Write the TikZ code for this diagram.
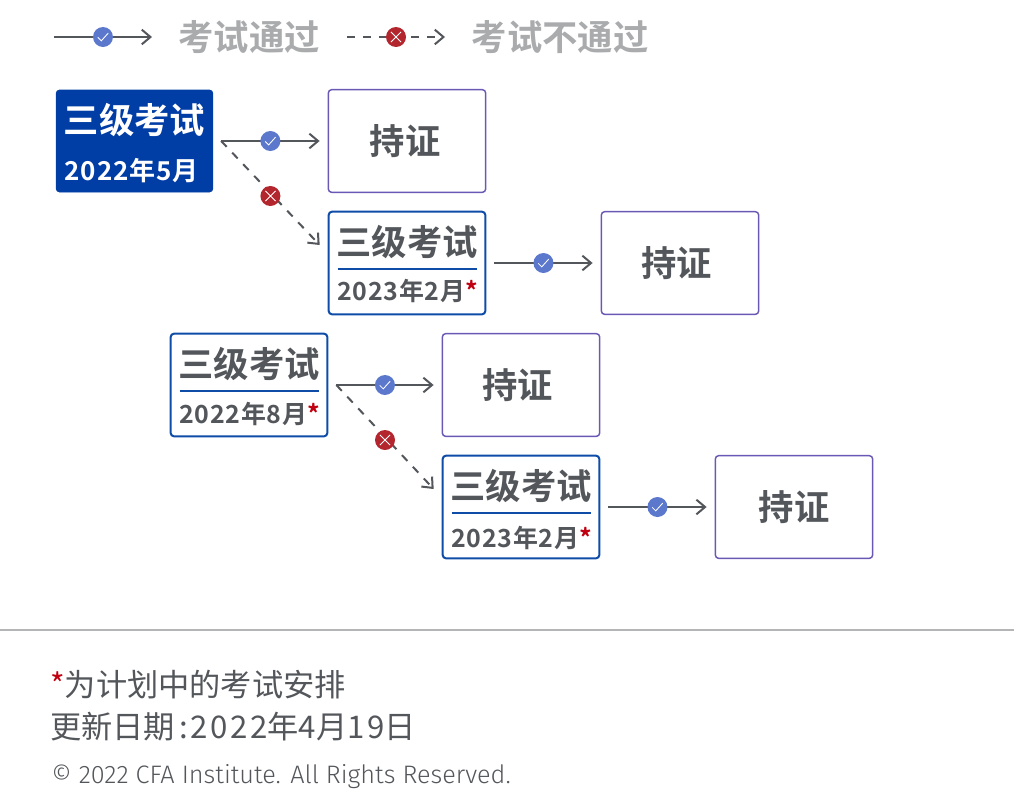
\documentclass[tikz,border=0pt]{standalone}
\usepackage{fontspec}
\usetikzlibrary{arrows.meta,calc}
\setmainfont{Noto Sans CJK SC}[BoldFont={* Bold}]
\newfontfamily\latinfont{Fira Sans}[UprightFont={* Light}]
\newfontfamily\datefont{Noto Sans CJK SC}[LetterSpace=3,BoldFont={* Bold}]
\newfontfamily\footdigits{Noto Sans CJK SC}[LetterSpace=8.5]
\definecolor{examblue}{HTML}{003DA5}
\definecolor{edgeblue}{HTML}{0F4CA8}
\definecolor{certpurple}{HTML}{6B58B4}
\definecolor{okblue}{HTML}{5B78CC}
\definecolor{failred}{HTML}{B3262E}
\definecolor{inkgrey}{HTML}{53565A}
\definecolor{legendgrey}{HTML}{A9ABAD}
\definecolor{rulegrey}{HTML}{B4B5B7}
\definecolor{starred}{HTML}{C00010}
\newcommand{\fs}[1]{\fontsize{#1}{#1}\selectfont}
\newcommand{\checkglyph}{\tikz{\draw[white,line width=.65pt,solid,-,shorten <=0pt,shorten >=0pt] (-3.8pt,-.2pt)--(-1.2pt,-2.8pt)--(4pt,3pt);}}
\newcommand{\crossglyph}{\tikz{\draw[white,line width=.65pt,solid,-,shorten <=0pt,shorten >=0pt] (-3.8pt,-3.8pt)--(3.8pt,3.8pt) (-3.8pt,3.8pt)--(3.8pt,-3.8pt);}}
\tikzset{
  x=0.75pt,y=-0.75pt,
  box/.style={rounded corners=2.5pt,minimum width=118pt,inner sep=0pt},
  certbox/.style={box,line width=1.1pt,draw=certpurple,fill=white,minimum height=77pt,font=\fs{26.5}\bfseries,text=inkgrey},
  planbox/.style={box,line width=1.5pt,draw=edgeblue,fill=white,minimum height=77pt,minimum width=117.5pt},
  firstbox/.style={box,line width=.5pt,draw=examblue,fill=examblue,minimum height=76.5pt,minimum width=117.5pt},
  titletext/.style={font=\fs{26.5}\bfseries,inner sep=0pt},
  datetext/.style={font=\datefont\fs{19.5}\bfseries,inner sep=0pt},
  plandate/.style={font=\datefont\fs{18.7}\bfseries,inner sep=0pt},
  passline/.style={draw=inkgrey,line width=1.5pt,-{Straight Barb[length=6.5pt,width=11pt,line width=1.5pt]}},
  failline/.style={passline,dash pattern=on 6pt off 6pt},
  gap/.style={shorten <=6pt,shorten >=6pt},
  okmark/.style={circle,fill=okblue,minimum size=15pt,inner sep=0pt,solid},
  failmark/.style={circle,fill=failred,minimum size=15pt,inner sep=0pt,solid},
  legendtext/.style={font=\fs{26.5}\bfseries,text=legendgrey,inner sep=0pt},
  foot/.style={font=\fs{23.4},text=inkgrey,inner sep=0pt,anchor=west},
  copyr/.style={font=\latinfont\fs{18.95},text=inkgrey,inner sep=0pt,anchor=west}
}
\newcommand{\planexam}[5]{% name, centre x, centre y, date, date offset
  \node[planbox] (#1) at (#2,#3) {};
  \node[titletext,text=inkgrey] (#1t) at (#2,#3-21) {三级考试};
  \coordinate (#1a) at (#2-69.5,#3+6);
  \coordinate (#1b) at (#2+69.5,#3+6);
  \draw[edgeblue,line width=1.5pt] (#1a) -- (#1b);
  \node[plandate,text=inkgrey] (#1d) at (#2+0.5,#3+#5) {#4\textcolor{starred}{*}};
}
\begin{document}
\begin{tikzpicture}
\useasboundingbox (0,0) rectangle (1014,811);
% legend
\coordinate (la) at (54,37); \coordinate (lb) at (152,37);
\coordinate (lc) at (347,37); \coordinate (ld) at (445,37);
\draw[passline] (la) -- node[okmark] (lok) {\checkglyph} (lb);
\node[legendtext] (lt1) at (249,37) {考试通过};
\draw[failline] (lc) -- node[failmark] (lfail) {\crossglyph} (ld);
\node[legendtext] (lt2) at (560,37) {考试不通过};
% first row
\node[firstbox] (e1) at (134.5,141) {};
\node[titletext,text=white] (e1t) at (134.5,120) {三级考试};
\node[datetext,text=white] (e1d) at (131.5,171) {2022年5月};
\node[certbox] (c1) at (407,141) {持证\hspace*{3pt}};
\draw[passline,gap] (e1.east) -- node[okmark] (ok1) {\checkglyph} (c1.west);
\planexam{e2}{407}{263}{2023年2月}{28}
\node[certbox] (c2) at (680,263) {持证\hspace*{5.25pt}};
\draw[passline,gap] (e2.east) -- node[okmark] (ok2) {\checkglyph} (c2.west);
\coordinate (s1) at ($(e1.east)+(8,0)$);
\coordinate (t1) at ($(e2.west)+(-8,-18)$);
\draw[failline] (s1) -- node[failmark,yshift=-2.25pt] (fail1) {\crossglyph} (t1);
% second group
\planexam{e3}{249}{385}{2022年8月}{29}
\node[certbox] (c3) at (521,385) {持证\hspace*{5.25pt}};
\draw[passline,gap] (e3.east) -- node[okmark] (ok3) {\checkglyph} (c3.west);
\planexam{e4}{521}{507}{2023年2月}{31}
\node[certbox] (c4) at (794,507) {持证};
\draw[passline,gap] (e4.east) -- node[okmark] (ok4) {\checkglyph} (c4.west);
\coordinate (s2) at ($(e3.east)+(8,0)$);
\coordinate (t2) at ($(e4.west)+(-8,-18)$);
\draw[failline] (s2) -- node[failmark,yshift=-2.25pt] (fail2) {\crossglyph} (t2);
% footer
\coordinate (r1) at (0,630); \coordinate (r2) at (1014,630);
\draw[rulegrey,line width=1.6pt] (r1) -- (r2);
\node[foot] (f1) at (50,685) {\textcolor{starred}{*}为计划中的考试安排};
\node[foot] (f2) at (50,727) {更新日期\hspace{3pt}:\hspace{2pt}{\footdigits 2022}年{\footdigits 4}月{\footdigits 19}日};
\node[copyr] (f3) at (51,776.5) {© 2022 CFA Institute. All Rights Reserved.};
\end{tikzpicture}
\end{document}
